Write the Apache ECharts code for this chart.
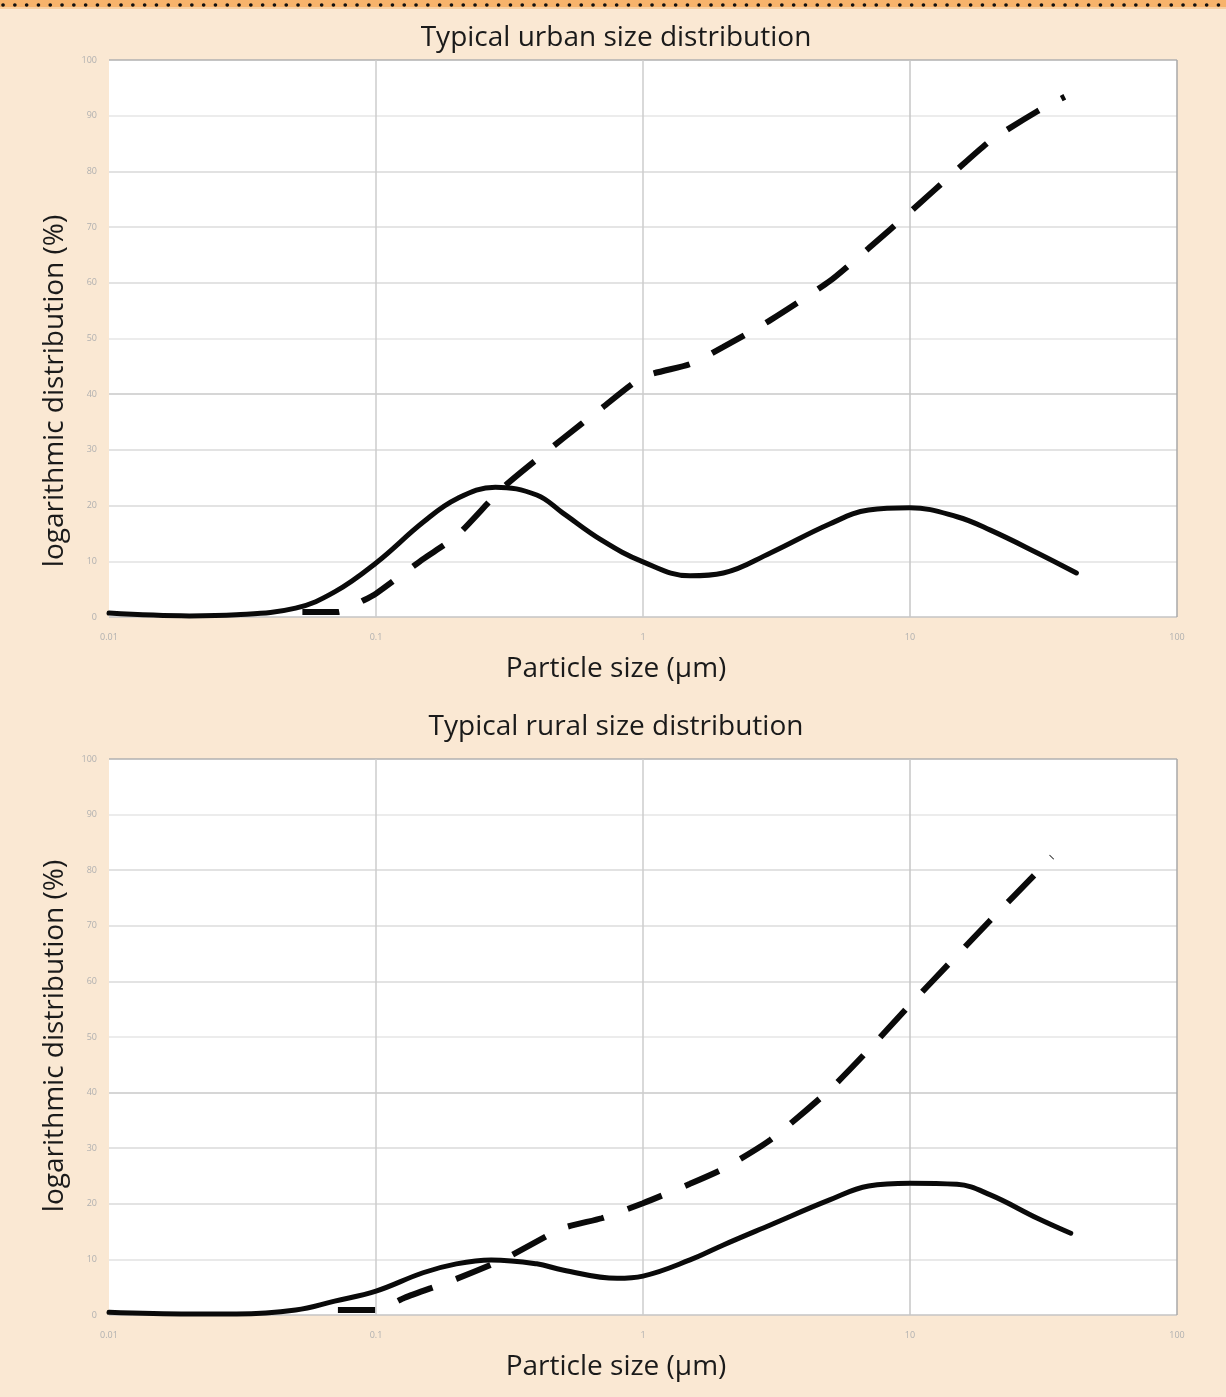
<!DOCTYPE html>
<html>
<head>
<meta charset="utf-8">
<script src="https://cdn.jsdelivr.net/npm/echarts@6/dist/echarts.min.js"></script>
<style>
html,body{margin:0;padding:0;background:#fae8d3;}
#chart{width:1226px;height:1397px;}
</style>
</head>
<body>
<div id="chart"></div>
<script>
// ---- data ----
const titles = ['Typical urban size distribution', 'Typical rural size distribution'];
const xAxisTitle = 'Particle size (\u00b5m)';
const yAxisTitle = 'logarithmic distribution (%)';
const xTickLabels = ['0.01', '0.1', '1', '10', '100'];
const yTickLabels = ['0', '10', '20', '30', '40', '50', '60', '70', '80', '90', '100'];

const urbanSolidX = [0.01, 0.02, 0.03, 0.05, 0.07, 0.1, 0.15, 0.2, 0.28, 0.4, 0.5, 0.7, 1, 1.5, 2, 3, 5, 7, 10, 15, 20, 30, 42];
const urbanSolidY = [0.7, 0.2, 0.4, 1.6, 4.5, 9.7, 17, 21.2, 23.3, 21.9, 18.7, 13.8, 9.9, 7.4, 7.9, 11.5, 16.7, 19.2, 19.6, 18, 15.6, 11.5, 7.9];
const urbanDashX = [0.053, 0.072, 0.09, 0.1, 0.15, 0.2, 0.3, 0.5, 0.7, 1, 1.5, 2, 3, 5, 7, 10, 15, 20, 30, 38];
const urbanDashY = [0.9, 0.9, 3.0, 4.2, 10.4, 14.5, 23.3, 32, 37.5, 43.1, 45.4, 48.5, 53.3, 60.3, 66.2, 72.7, 80.3, 85.5, 90.8, 93.4];

const ruralSolidX = [0.01, 0.02, 0.03, 0.05, 0.07, 0.1, 0.15, 0.2, 0.27, 0.4, 0.5, 0.8, 1, 1.5, 2, 3, 5, 7, 10, 15, 20, 30, 40];
const ruralSolidY = [0.5, 0.2, 0.2, 0.9, 2.5, 4.3, 7.6, 9.2, 9.9, 9.2, 8.1, 6.6, 7.0, 9.9, 12.6, 16.2, 20.7, 23.2, 23.7, 23.5, 21.6, 17.4, 14.7];
const ruralDashX = [0.072, 0.1, 0.128, 0.2, 0.3, 0.5, 0.7, 1, 1.5, 2, 3, 5, 7, 10, 15, 20, 30, 34];
const ruralDashY = [0.9, 0.9, 3.1, 6.5, 10, 15.6, 17.4, 20.1, 23.6, 26.3, 31.5, 40.5, 47.7, 55.8, 64.7, 71, 79.7, 82.4];

// ---- helpers ----
function pairs(xs, ys) { return xs.map((x, i) => [x, ys[i]]); }

const FONT = '"Open Sans", "Noto Sans", sans-serif';
const ySplitColors = ['#c4c4c4', '#e2e2e2', '#dadada', '#dadada', '#c9c9c9', '#e6e6e6', '#dadada', '#dcdcdc', '#d8d8d8', '#e6e6e6', '#b0b0b0'];
const xSplitColors = ['rgba(0,0,0,0)', '#cdcdcd', '#cdcdcd', '#c6c6c6', '#a9a9a9'];

const grids = [
  { left: 109, top: 60, right: 49, height: 557 },
  { left: 109, top: 759, right: 49, height: 556 }
];

function makeX(i) {
  return {
    type: 'log', logBase: 10, gridIndex: i, min: 0.01, max: 100,
    axisLine: { show: false }, axisTick: { show: false },
    splitLine: { show: true, showMinLine: true, showMaxLine: true, lineStyle: { color: xSplitColors, width: 1.5 } },
    minorSplitLine: { show: false },
    axisLabel: {
      color: '#b0b0b0', fontSize: 9, fontFamily: FONT, margin: 16,
      formatter: function (v) {
        const k = Math.round(Math.log10(v)) + 2;
        return xTickLabels[k] !== undefined ? xTickLabels[k] : '';
      }
    }
  };
}
function makeY(i) {
  return {
    type: 'value', gridIndex: i, min: 0, max: 100, interval: 10,
    axisLine: { show: false }, axisTick: { show: false },
    splitLine: { show: true, showMinLine: true, showMaxLine: true, lineStyle: { color: ySplitColors, width: 1.5 } },
    axisLabel: {
      color: '#b0b0b0', fontSize: 9, fontFamily: FONT, margin: 12,
      formatter: function (v) { return yTickLabels[Math.round(v / 10)]; }
    }
  };
}

function solid(i, data) {
  return {
    type: 'line', xAxisIndex: i, yAxisIndex: i, data: data, symbol: 'none',
    smooth: 0.4,
    lineStyle: { color: '#0a0a0a', width: 5, cap: 'round', join: 'round' }, z: 3
  };
}
function dashed(i, data) {
  return {
    type: 'line', xAxisIndex: i, yAxisIndex: i, data: data, symbol: 'none',
    smooth: 0.2,
    lineStyle: { color: '#0a0a0a', width: 6, type: [37, 25], cap: 'butt' }, z: 4
  };
}

const TS = 28;
const graphics = [
  { type: 'rect', shape: { x: 0, y: 0, width: 1226, height: 7 }, style: { fill: '#f7b36b' }, z: 10 },
  { type: 'rect', shape: { x: 0, y: 7, width: 1226, height: 2 }, style: { fill: '#f9cfa0' }, z: 10 },
  { type: 'line', shape: { x1: 3, y1: 5, x2: 1226, y2: 5 }, style: { stroke: '#111', lineWidth: 3.6, lineDash: [0.1, 11.7], lineCap: 'round' }, z: 11 },
  { type: 'text', x: 616, y: 38, style: { text: titles[0], fontSize: TS, fontFamily: FONT, fill: '#1a1a1a', align: 'center', verticalAlign: 'middle' } },
  { type: 'text', x: 616, y: 727, style: { text: titles[1], fontSize: TS, fontFamily: FONT, fill: '#1a1a1a', align: 'center', verticalAlign: 'middle' } },
  { type: 'text', x: 616, y: 669, style: { text: xAxisTitle, fontSize: TS, fontFamily: FONT, fill: '#1a1a1a', align: 'center', verticalAlign: 'middle' } },
  { type: 'text', x: 616, y: 1367, style: { text: xAxisTitle, fontSize: TS, fontFamily: FONT, fill: '#1a1a1a', align: 'center', verticalAlign: 'middle' } },
  { type: 'text', x: 55, y: 391, rotation: Math.PI / 2, style: { text: yAxisTitle, fontSize: TS, fontFamily: FONT, fill: '#1a1a1a', align: 'center', verticalAlign: 'middle' } },
  { type: 'text', x: 55, y: 1036, rotation: Math.PI / 2, style: { text: yAxisTitle, fontSize: TS, fontFamily: FONT, fill: '#1a1a1a', align: 'center', verticalAlign: 'middle' } }
];

const chart = echarts.init(document.getElementById('chart'), null, { renderer: 'canvas' });
chart.setOption({
  animation: false,
  backgroundColor: '#fae8d3',
  grid: grids.map(g => Object.assign({ show: true, backgroundColor: '#ffffff', borderWidth: 0 }, g)),
  xAxis: [makeX(0), makeX(1)],
  yAxis: [makeY(0), makeY(1)],
  series: [
    solid(0, pairs(urbanSolidX, urbanSolidY)),
    dashed(0, pairs(urbanDashX, urbanDashY)),
    solid(1, pairs(ruralSolidX, ruralSolidY)),
    dashed(1, pairs(ruralDashX, ruralDashY))
  ],
  graphic: graphics
});
</script>
</body>
</html>
